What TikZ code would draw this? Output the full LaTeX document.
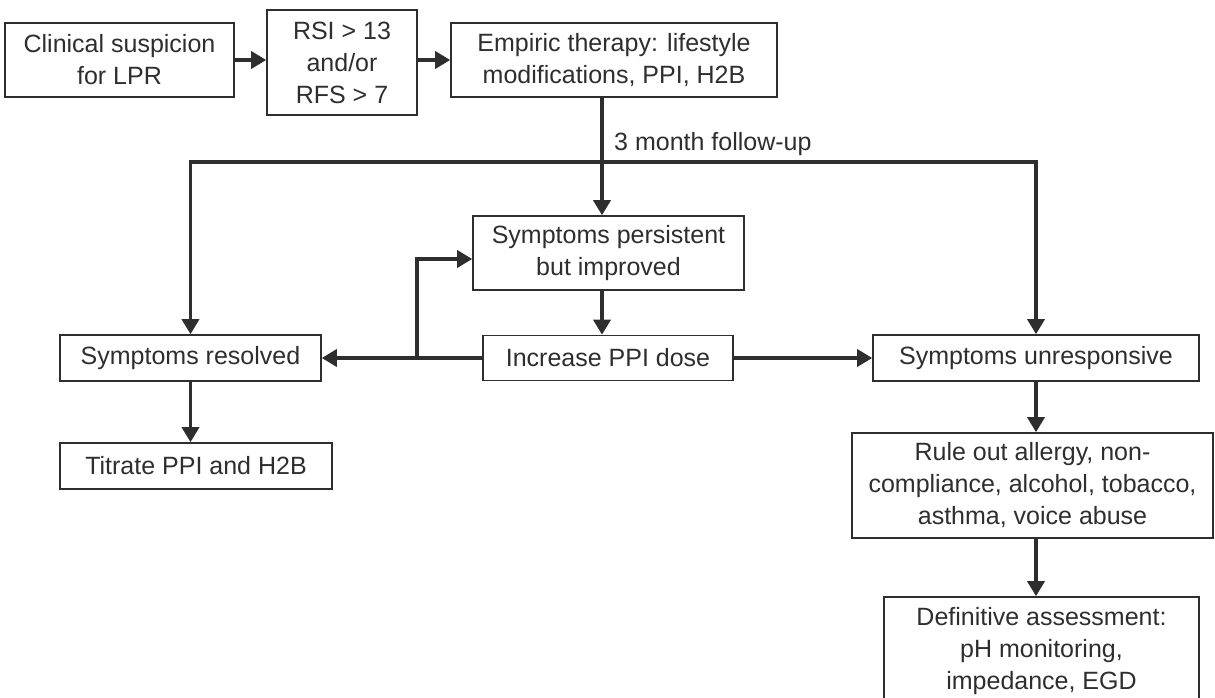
\documentclass[tikz,border=0pt]{standalone}
\usepackage{fontspec}
\setmainfont{Liberation Sans}
\usetikzlibrary{arrows.meta}
\definecolor{ink}{HTML}{2E2E2E}

\begin{document}
\begin{tikzpicture}[x=1pt,y=-1pt]
    \tikzset{
        box/.style={draw=ink, line width=1.6pt, text=ink, align=center, inner sep=0pt,
            font=\fontsize{25}{32}\selectfont},
        flow/.style={draw=ink, line width=3.5pt, -{Triangle[length=15pt,width=17pt]}},
        line/.style={draw=ink, line width=3.5pt}
    };
    \useasboundingbox (0,0) rectangle (1215,698);
    \clip (0,0) rectangle (1215,698);	%page

    % first row
    \node[box, minimum width=229pt, minimum height=74pt] (clin) at (119.5,60) {Clinical suspicion\\for LPR};
    \node[box, minimum width=150pt, minimum height=105pt] (rsi) at (342,62.5) {RSI > 13\\and/or\\RFS > 7};
    \node[box, minimum width=326pt, minimum height=74pt] (emp) at (614,60) {Empiric therapy: lifestyle\\modifications, PPI, H2B};
    \coordinate (split) at (602,162);

    % middle
    \node[box, minimum width=271pt, minimum height=74pt] (pers) at (608.5,253) {Symptoms persistent\\but improved};
    \node[box, minimum width=250pt, minimum height=45pt] (incr) at (608,358) {Increase PPI dose};
    \node[box, minimum width=261pt, minimum height=46pt] (res) at (190.5,358) {Symptoms resolved};
    \node[box, minimum width=326pt, minimum height=46pt] (unr) at (1036,358) {Symptoms unresponsive};
    \coordinate (loop) at (417,358);

    % lower
    \node[box, minimum width=272pt, minimum height=46pt] (tit) at (196,466) {Titrate PPI and H2B};
    \node[box, minimum width=361pt, minimum height=105pt] (rule) at (1032.5,485.5) {Rule out allergy, non-\\compliance, alcohol, tobacco,\\asthma, voice abuse};
    \node[box, minimum width=315pt, minimum height=108pt] (defn) at (1041.5,651) {Definitive assessment:\\pH monitoring,\\impedance, EGD};

    \node[anchor=base west, inner sep=0pt, text=ink, font=\fontsize{25}{32}\selectfont] (fu) at (614,150) {3 month follow-up};

    % connectors
    \draw[flow] (clin) -- (rsi.west |- clin);
    \draw[flow] (rsi.east |- emp) -- (emp);
    \draw[line] (split |- emp.south) -- (split);
    \draw[flow] (split) -- (split |- pers.north);
    \draw[flow] (split) -| (res.north);
    \draw[flow] (split) -| (unr.north);
    \draw[flow] (split |- pers.south) -- (split |- incr.north);
    \draw[flow] (incr) -- (res);
    \draw[flow] (incr) -- (unr);
    \draw[flow] (loop) |- ([yshift=-6pt]pers.west);
    \draw[flow] (res) -- (res |- tit.north);
    \draw[flow] (unr) -- (unr |- rule.north);
    \draw[flow] (unr |- rule.south) -- (unr |- defn.north);
\end{tikzpicture}
\end{document}
